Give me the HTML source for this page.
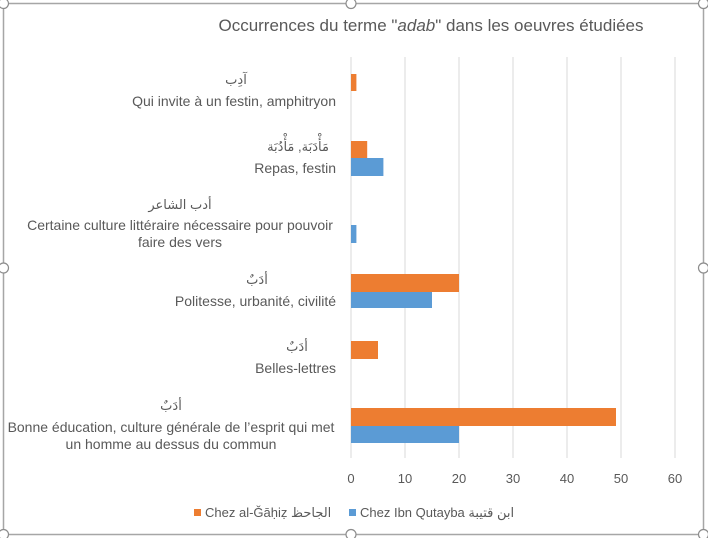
<!DOCTYPE html>
<html><head><meta charset="utf-8"><style>
body{margin:0;background:#fff}
svg{display:block;font-family:"Liberation Sans","Noto Sans CJK SC","DejaVu Sans",sans-serif}
</style></head><body>
<svg width="708" height="538" viewBox="0 0 708 538">
<rect x="3.5" y="3.5" width="700" height="531" fill="#fff" stroke="#a6a6a6" stroke-width="1.5"/>
<g fill="#fff" stroke="#8c8c8c" stroke-width="1.2">
<circle cx="3.5" cy="3.5" r="5"/><circle cx="351" cy="3.5" r="5"/><circle cx="703.5" cy="3.5" r="5"/>
<circle cx="3.5" cy="268" r="5"/><circle cx="703.5" cy="268" r="5"/>
<circle cx="3.5" cy="534.5" r="5"/><circle cx="351" cy="534.5" r="5"/><circle cx="703.5" cy="534.5" r="5"/>
</g>
<text x="431" y="31" text-anchor="middle" font-size="17" fill="#595959">Occurrences du terme "<tspan font-style="italic">adab</tspan>" dans les oeuvres étudiées</text>
<g stroke="#d9d9d9" stroke-width="1">
<line x1="351" y1="57" x2="351" y2="458"/><line x1="405" y1="57" x2="405" y2="458"/><line x1="459" y1="57" x2="459" y2="458"/>
<line x1="513" y1="57" x2="513" y2="458"/><line x1="567" y1="57" x2="567" y2="458"/><line x1="621" y1="57" x2="621" y2="458"/><line x1="675" y1="57" x2="675" y2="458"/>
</g>
<g fill="#ed7d31">
<rect x="351" y="74" width="5.4" height="17"/>
<rect x="351" y="141" width="16.2" height="17"/>
<rect x="351" y="274" width="108" height="18"/>
<rect x="351" y="341" width="27" height="18"/>
<rect x="351" y="408" width="265" height="18"/>
</g>
<g fill="#5b9bd5">
<rect x="351" y="158" width="32.4" height="18"/>
<rect x="351" y="225" width="5.4" height="18"/>
<rect x="351" y="292" width="81" height="16"/>
<rect x="351" y="426" width="108" height="17"/>
</g>
<g font-size="13" fill="#595959" text-anchor="middle">
<text x="351" y="483">0</text><text x="405" y="483">10</text><text x="459" y="483">20</text><text x="513" y="483">30</text><text x="567" y="483">40</text><text x="621" y="483">50</text><text x="675" y="483">60</text>
</g>
<g font-size="14" fill="#595959">
<text x="236" y="84" text-anchor="middle" font-size="13">آدِب</text>
<text x="336" y="106" text-anchor="end">Qui invite à un festin, amphitryon</text>
<text x="298" y="151" text-anchor="middle" font-size="13">مَأْدَبَة, مَأْدُبَة</text>
<text x="336" y="173" text-anchor="end">Repas, festin</text>
<text x="180" y="209" text-anchor="middle" font-size="13">أدب الشاعر</text>
<text x="180" y="230" text-anchor="middle">Certaine culture littéraire nécessaire pour pouvoir</text>
<text x="180" y="247" text-anchor="middle">faire des vers</text>
<text x="257" y="284" text-anchor="middle" font-size="13">أدَبٌ</text>
<text x="336" y="306" text-anchor="end">Politesse, urbanité, civilité</text>
<text x="297" y="351" text-anchor="middle" font-size="13">أدَبٌ</text>
<text x="336" y="373" text-anchor="end">Belles-lettres</text>
<text x="171" y="410" text-anchor="middle" font-size="13">أدَبٌ</text>
<text x="171" y="432" text-anchor="middle">Bonne éducation, culture générale de l’esprit qui met</text>
<text x="171" y="449" text-anchor="middle">un homme au dessus du commun</text>
</g>
<rect x="194" y="509" width="7" height="7" fill="#ed7d31"/>
<text x="205" y="517" font-size="13" fill="#595959">Chez al-Ǧāḥiẓ الجاحظ</text>
<rect x="349" y="509" width="7" height="7" fill="#5b9bd5"/>
<text x="360" y="517" font-size="13" fill="#595959">Chez Ibn Qutayba ابن قتيبة</text>
</svg>
</body></html>
